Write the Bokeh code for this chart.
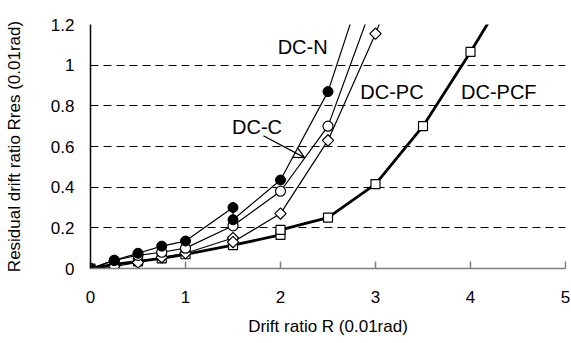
from bokeh.plotting import figure
from bokeh.models import Range1d, FixedTicker, Label, Arrow, OpenHead
from bokeh.embed import file_html
from bokeh.resources import INLINE

x_ticks = [0, 1, 2, 3, 4, 5]
y_ticks = [0, 0.2, 0.4, 0.6, 0.8, 1.0, 1.2]
y_tick_labels = {0: "0", 0.2: "0.2", 0.4: "0.4", 0.6: "0.6", 0.8: "0.8", 1.0: "1", 1.2: "1.2"}

dcn_x = [0, 0.25, 0.5, 0.75, 1, 1.5, 1.5, 2, 2.5, 3]
dcn_y = [0, 0.04, 0.075, 0.11, 0.135, 0.30, 0.24, 0.435, 0.87, 1.58]

dcc_x = [0, 0.25, 0.5, 0.75, 1, 1.5, 2, 2.5, 3]
dcc_y = [0, 0.04, 0.065, 0.08, 0.10, 0.21, 0.38, 0.70, 1.34]

dcpc_x = [0, 0.25, 0.5, 0.75, 1, 1.5, 1.5, 2, 2.5, 3, 3.5]
dcpc_y = [0, 0.01, 0.03, 0.055, 0.075, 0.15, 0.13, 0.27, 0.63, 1.155, 1.75]

dcpcf_x = [0, 0.25, 0.5, 0.75, 1, 1.5, 2, 2, 2.5, 3, 3.5, 4, 4.5]
dcpcf_y = [0, 0.02, 0.035, 0.05, 0.07, 0.115, 0.165, 0.19, 0.25, 0.415, 0.70, 1.065, 1.45]

FONT = "Liberation Sans"

p = figure(width=571, height=343, output_backend="svg", toolbar_location=None,
           x_range=Range1d(0, 5), y_range=Range1d(0, 1.2),
           min_border_left=90, min_border_right=6, min_border_top=24, min_border_bottom=75)
p.outline_line_color = None
p.background_fill_color = "white"
p.border_fill_color = "white"

# grid
p.xgrid.grid_line_color = None
p.ygrid.ticker = FixedTicker(ticks=y_ticks)
p.ygrid.grid_line_color = "black"
p.ygrid.grid_line_dash = "8 5"
p.ygrid.grid_line_width = 1

# axes
p.xaxis.ticker = FixedTicker(ticks=x_ticks)
p.yaxis.ticker = FixedTicker(ticks=y_ticks)
p.yaxis.major_label_overrides = y_tick_labels
for ax in (p.xaxis[0], p.yaxis[0]):
    ax.major_label_text_font = FONT
    ax.major_label_text_font_size = "17px"
    ax.major_label_text_color = "black"
    ax.axis_label_text_font = FONT
    ax.axis_label_text_font_size = "17px"
    ax.axis_label_text_font_style = "normal"
    ax.axis_label_text_color = "black"
    ax.minor_tick_line_color = None

p.xaxis.axis_label = "Drift ratio R (0.01rad)"
p.xaxis.axis_line_color = "#808080"
p.xaxis.axis_line_width = 1.5
p.xaxis.major_tick_line_color = "#808080"
p.xaxis.major_tick_line_width = 1.5
p.xaxis.major_tick_in = 7
p.xaxis.major_tick_out = 0
p.xaxis.major_label_standoff = 22
p.xaxis.axis_label_standoff = 11

p.yaxis.axis_label = "Residual drift ratio Rres (0.01rad)"
p.yaxis.axis_line_color = "black"
p.yaxis.axis_line_width = 1.5
p.yaxis.major_tick_line_color = None
p.yaxis.major_tick_in = 0
p.yaxis.major_tick_out = 0
p.yaxis.major_label_standoff = 16
p.yaxis.axis_label_standoff = 24

# series
p.line(dcn_x, dcn_y, line_color="black", line_width=1.2)
p.line(dcc_x, dcc_y, line_color="black", line_width=1.2)
p.line(dcpc_x, dcpc_y, line_color="black", line_width=1.2)
p.line(dcpcf_x, dcpcf_y, line_color="black", line_width=2.8)

p.scatter(dcpcf_x, dcpcf_y, marker="square", size=9, fill_color="white", line_color="black", line_width=1.2)
p.scatter(dcpc_x, dcpc_y, marker="square", angle=0.785398, size=8, fill_color="white", line_color="black", line_width=1.2)
p.scatter(dcc_x, dcc_y, marker="circle", size=10, fill_color="white", line_color="black", line_width=1.2)
p.scatter(dcn_x, dcn_y, marker="circle", size=10, fill_color="black", line_color="black")

# labels
label_font_size = "20px"
labels = [("DC-N", 1.97, 1.09), ("DC-PC", 2.84, 0.867), ("DC-PCF", 3.9, 0.867), ("DC-C", 1.49, 0.698)]
for txt, lx, ly in labels:
    p.add_layout(Label(x=lx, y=ly, text=txt, text_font=FONT, text_font_size=label_font_size,
                       text_color="black", text_baseline="alphabetic"))

p.add_layout(Arrow(x_start=1.82, y_start=0.653, x_end=2.253, y_end=0.545,
                   line_color="black", line_width=1.3,
                   end=OpenHead(size=11, line_color="black", line_width=1.3)))

open("out.html", "w").write(file_html(p, INLINE))
